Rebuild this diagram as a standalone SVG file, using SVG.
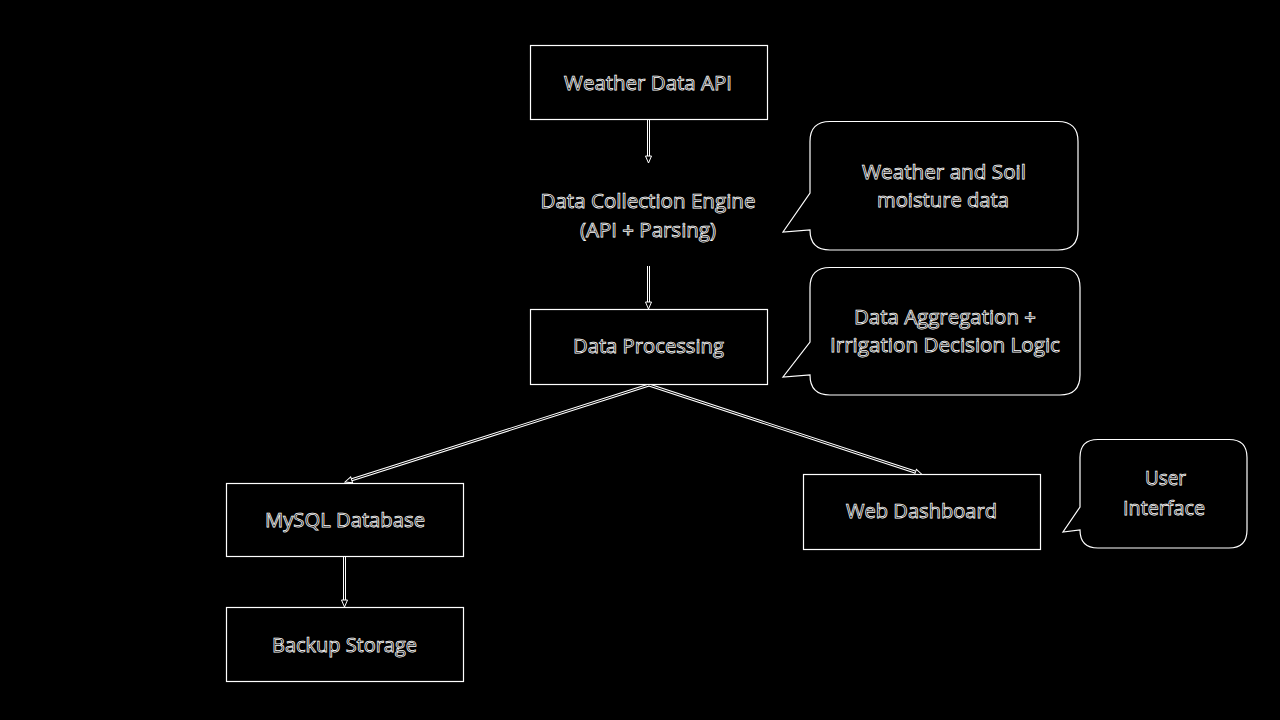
<svg xmlns="http://www.w3.org/2000/svg" width="1280" height="720" viewBox="0 0 1280 720">
<defs>
<style>
.box{fill:#000;stroke:#fff;stroke-width:1.2}
.t{font-family:"Open Sans",Lato,sans-serif;font-size:20px;fill:#000;stroke:#fff;stroke-width:0.75;text-anchor:middle}
.w{fill:none;stroke:#fff;stroke-width:3}
.k{fill:none;stroke:#000;stroke-width:1}
</style>
<marker id="ah" markerWidth="10" markerHeight="10" refX="8" refY="4" orient="auto" markerUnits="userSpaceOnUse">
<path d="M1,1 L8,4 L1,7 Z" fill="#000" stroke="#fff" stroke-width="1"/>
</marker>
</defs>
<rect width="1280" height="720" fill="#000"/>
<g id="connectors">
<path class="w" d="M648.5,119 V157"/><path class="k" d="M648.5,119 V157"/>
<path d="M648.5,157 V163" fill="none" marker-end="url(#ah)"/>
<path class="w" d="M648.5,266 V303"/><path class="k" d="M648.5,266 V303"/>
<path d="M648.5,303 V309" fill="none" marker-end="url(#ah)"/>
<path class="w" d="M649,385 L351,480"/><path class="k" d="M649,385 L351,480"/>
<path d="M351,480 L345,482" fill="none" marker-end="url(#ah)"/>
<path class="w" d="M649,385 L915,472"/><path class="k" d="M649,385 L915,472"/>
<path d="M915,472 L922,474.5" fill="none" marker-end="url(#ah)"/>
<path class="w" d="M344.5,556 V601"/><path class="k" d="M344.5,556 V601"/>
<path d="M344.5,601 V607" fill="none" marker-end="url(#ah)"/>
</g>
<g id="weather-api">
<rect class="box" x="530.5" y="45.5" width="237" height="74"/>
<text class="t" x="648" y="89.5" textLength="168" lengthAdjust="spacingAndGlyphs">Weather Data API</text>
</g>
<g id="collection-engine">
<text class="t" x="648" y="207.5" textLength="215" lengthAdjust="spacingAndGlyphs">Data Collection Engine</text>
<text class="t" x="648" y="236.5" textLength="136" lengthAdjust="spacingAndGlyphs">(API + Parsing)</text>
</g>
<g id="callout-weather">
<path class="box" d="M830,121.5 H1058 Q1078,121.5 1078,141.5 V230 Q1078,250 1058,250 H830 Q810,250 810,230 L783,232 L810,193 V141.5 Q810,121.5 830,121.5 Z"/>
<text class="t" x="944" y="178.5" textLength="164" lengthAdjust="spacingAndGlyphs">Weather and Soil</text>
<text class="t" x="943" y="207" textLength="132" lengthAdjust="spacingAndGlyphs">moisture data</text>
</g>
<g id="data-processing">
<rect class="box" x="530.5" y="309.5" width="237" height="75"/>
<text class="t" x="648.5" y="353" textLength="151" lengthAdjust="spacingAndGlyphs">Data Processing</text>
</g>
<g id="callout-processing">
<path class="box" d="M830,267.5 H1060 Q1080,267.5 1080,287.5 V375 Q1080,395 1060,395 H830 Q810,395 810,375 L783,377 L810,342 V287.5 Q810,267.5 830,267.5 Z"/>
<text class="t" x="945" y="323.5" textLength="182" lengthAdjust="spacingAndGlyphs">Data Aggregation +</text>
<text class="t" x="945" y="352" textLength="230" lengthAdjust="spacingAndGlyphs">Irrigation Decision Logic</text>
</g>
<g id="mysql">
<rect class="box" x="226.5" y="483.5" width="237" height="73"/>
<text class="t" x="345" y="526.5" textLength="160" lengthAdjust="spacingAndGlyphs">MySQL Database</text>
</g>
<g id="backup">
<rect class="box" x="226.5" y="607.5" width="237" height="74"/>
<text class="t" x="344.5" y="651.5" textLength="145" lengthAdjust="spacingAndGlyphs">Backup Storage</text>
</g>
<g id="web-dashboard">
<rect class="box" x="803.5" y="474.5" width="237" height="75"/>
<text class="t" x="921.5" y="518" textLength="151" lengthAdjust="spacingAndGlyphs">Web Dashboard</text>
</g>
<g id="callout-ui">
<path class="box" d="M1098,439.5 H1229 Q1247,439.5 1247,457.5 V530 Q1247,548 1229,548 H1098 Q1080,548 1080,530 L1063,532 L1080,507 V457.5 Q1080,439.5 1098,439.5 Z"/>
<text class="t" x="1165.5" y="485" textLength="41" lengthAdjust="spacingAndGlyphs">User</text>
<text class="t" x="1164" y="514.5" textLength="82" lengthAdjust="spacingAndGlyphs">Interface</text>
</g>
</svg>
